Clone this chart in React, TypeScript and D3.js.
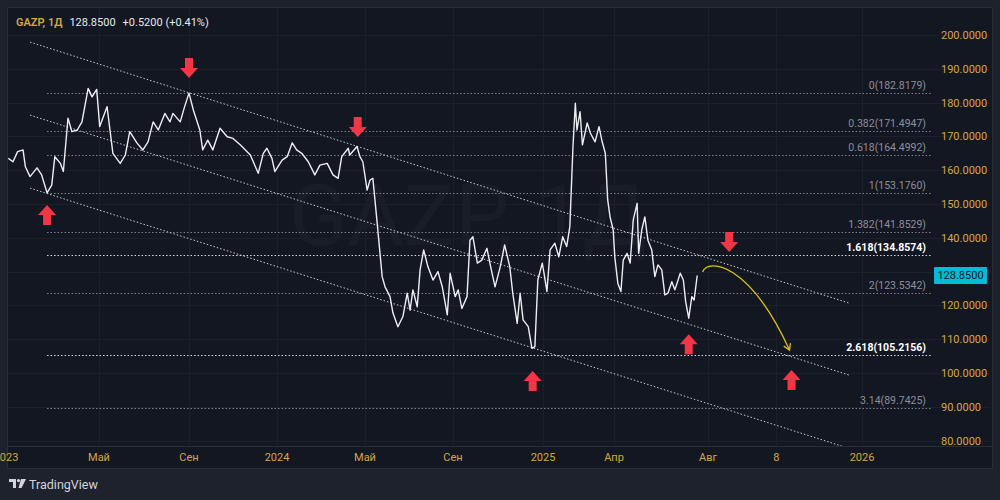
import React from "react";
import * as d3 from "d3";

// GAZP daily closes
const dates = [
  "2023-01-04", "2023-01-10", "2023-01-16", "2023-01-23", "2023-01-26", "2023-02-01", "2023-02-10", "2023-02-16",
  "2023-02-23", "2023-03-01", "2023-03-05", "2023-03-12", "2023-03-16", "2023-03-22", "2023-03-27", "2023-04-03",
  "2023-04-09", "2023-04-17", "2023-04-22", "2023-04-28", "2023-05-02", "2023-05-12", "2023-05-20", "2023-05-30",
  "2023-06-06", "2023-06-12", "2023-06-22", "2023-06-30", "2023-07-07", "2023-07-14", "2023-07-21", "2023-07-30",
  "2023-08-06", "2023-08-10", "2023-08-20", "2023-08-26", "2023-09-01", "2023-09-07", "2023-09-16", "2023-09-20",
  "2023-09-27", "2023-10-04", "2023-10-14", "2023-10-24", "2023-11-01", "2023-11-11", "2023-11-25", "2023-12-06",
  "2023-12-13", "2023-12-18", "2023-12-25", "2023-12-29",
  "2024-01-08", "2024-01-15", "2024-01-22", "2024-01-28", "2024-02-04", "2024-02-13", "2024-02-22", "2024-02-29",
  "2024-03-10", "2024-03-18", "2024-03-25", "2024-03-30", "2024-04-08", "2024-04-10", "2024-04-20", "2024-04-24",
  "2024-04-28", "2024-05-04", "2024-05-08", "2024-05-12", "2024-05-18", "2024-05-25", "2024-05-29", "2024-06-05",
  "2024-06-09", "2024-06-16", "2024-06-23", "2024-06-29", "2024-07-03", "2024-07-07", "2024-07-13", "2024-07-17",
  "2024-07-22", "2024-07-28", "2024-08-04", "2024-08-11", "2024-08-17", "2024-08-24", "2024-08-28", "2024-09-04",
  "2024-09-08", "2024-09-13", "2024-09-20", "2024-09-24", "2024-09-28", "2024-10-04", "2024-10-10", "2024-10-17",
  "2024-10-21", "2024-10-28", "2024-11-04", "2024-11-10", "2024-11-17", "2024-11-21", "2024-11-27", "2024-12-01",
  "2024-12-05", "2024-12-12", "2024-12-17", "2024-12-21", "2024-12-25", "2024-12-31",
  "2025-01-03", "2025-01-06", "2025-01-10", "2025-01-16", "2025-01-21", "2025-01-26", "2025-01-31", "2025-02-04",
  "2025-02-08", "2025-02-11", "2025-02-13", "2025-02-17", "2025-02-20", "2025-02-26", "2025-03-02", "2025-03-08",
  "2025-03-13", "2025-03-17", "2025-03-21", "2025-03-24", "2025-03-27", "2025-03-31", "2025-04-02", "2025-04-06",
  "2025-04-10", "2025-04-13", "2025-04-18", "2025-04-22", "2025-04-26", "2025-05-01", "2025-05-03", "2025-05-07",
  "2025-05-11", "2025-05-15", "2025-05-20", "2025-05-24", "2025-05-28", "2025-06-02", "2025-06-06", "2025-06-10",
  "2025-06-15", "2025-06-19", "2025-06-26", "2025-06-30", "2025-07-03", "2025-07-07", "2025-07-11", "2025-07-14",
  "2025-07-18",
];
const closes = [
  163.5, 162.5, 165.5, 166.0, 161.0, 158.1, 160.7, 158.6,
  153.3, 155.6, 164.0, 162.1, 159.6, 175.4, 171.4, 171.9,
  174.3, 184.2, 181.7, 183.9, 172.9, 178.8, 165.0, 162.0,
  164.5, 171.4, 168.0, 166.0, 168.4, 174.3, 171.9, 176.8,
  174.3, 176.8, 174.3, 178.8, 182.8, 177.8, 171.9, 166.0,
  168.9, 166.0, 172.4, 169.9, 169.4, 167.5, 164.5, 159.1,
  165.0, 166.5, 163.5, 159.6,
  163.0, 164.0, 168.1, 166.0, 165.0, 162.5, 158.6, 161.5,
  162.0, 158.6, 157.6, 164.0, 166.5, 164.5, 167.0, 164.0,
  162.5, 154.1, 157.1, 157.6, 144.4, 128.5, 125.5, 122.6,
  117.8, 113.7, 116.7, 123.6, 118.6, 124.6, 119.6, 130.5,
  136.4, 131.4, 127.5, 130.0, 125.5, 117.2, 129.5, 122.6,
  124.6, 119.1, 122.6, 139.3, 140.3, 132.5, 133.4, 136.9,
  132.5, 125.5, 131.4, 137.9, 131.4, 123.6, 114.7, 123.6,
  115.7, 113.7, 107.3, 107.8, 127.5, 132.5,
  128.5, 124.1, 136.4, 138.4, 134.4, 140.3, 137.4, 143.3,
  167.0, 179.8, 171.9, 177.3, 167.5, 174.0, 171.0, 168.4,
  172.9, 168.4, 165.0, 151.2, 146.2, 142.3, 134.4, 126.5,
  124.1, 133.4, 135.4, 132.5, 145.3, 150.2, 135.4, 142.3,
  146.2, 139.3, 136.4, 128.5, 132.0, 130.5, 123.1, 123.6,
  127.0, 124.6, 129.5, 127.5, 121.1, 116.2, 122.6, 121.6,
  128.85,
];

// fibonacci extension levels
const fibRatios = ["0", "0.382", "0.618", "1", "1.382", "1.618", "2", "2.618", "3.14"];
const fibPrices = [182.8179, 171.4947, 164.4992, 153.176, 141.8529, 134.8574, 123.5342, 105.2156, 89.7425];
const fibBold = ["1.618", "2.618"];
const fibStart = "2023-02-23";

// parallel channel lines: [start date, start price, end date, end price]
const channelStart = "2023-02-01";
const channelEnd = "2025-12-19";
const channelStartPrices = [197.9, 176.3, 154.7];
const channelEndPrices = [120.7, 99.4, 77.7];

// red arrows marking touches (tip date / tip price)
const downArrowDates = ["2023-09-01", "2024-04-21", "2025-08-22"];
const downArrowPrices = [187.3, 169.8, 135.8];
const upArrowDates = ["2023-02-23", "2024-12-18", "2025-07-07", "2025-10-23"];
const upArrowPrices = [149.7, 100.6, 111.5, 100.9];

// forecast curve (bezier anchors)
const forecastDates = ["2025-07-25", "2025-08-01", "2025-09-11", "2025-10-21"];
const forecastPrices = [129.9, 134.0, 132.8, 106.8];

// axes
const priceTicks = [80, 90, 100, 110, 120, 130, 140, 150, 160, 170, 180, 190, 200];
const timeTickDates = ["2023-01-01", "2023-05-01", "2023-09-01", "2024-01-01", "2024-05-01", "2024-09-01", "2025-01-01", "2025-04-01", "2025-08-01", "2025-10-08", "2026-01-01"];
const timeTickLabels = ["2023", "Май", "Сен", "2024", "Май", "Сен", "2025", "Апр", "Авг", "8", "2026"];

const lastPrice = 128.85;

const parse = d3.timeParse("%Y-%m-%d");
const FONT = "Roboto, 'Noto Sans', sans-serif";
const GOLD = "#d4a64a";

const App = () => {
  const W = 1000;
  const H = 500;
  const plot = { left: 8, right: 932, top: 8, bottom: 446 };

  // trading-day compression makes the time axis piecewise
  const x = d3
    .scaleTime()
    .domain(["2023-01-01", "2023-05-01", "2023-09-01", "2024-01-01", "2024-05-01", "2024-09-01", "2025-01-01", "2025-04-01", "2025-08-01", "2026-01-01"].map((s) => parse(s) as Date))
    .range([6, 99, 189, 277, 365, 453, 543, 614, 708, 862]);
  const y = d3.scaleLinear().domain([80, 200]).range([440.6, 35]);

  const series = dates.map((d, i) => ({ date: parse(d) as Date, value: closes[i] }));
  const line = d3
    .line<{ date: Date; value: number }>()
    .x((d) => x(d.date))
    .y((d) => y(d.value));

  const fx = forecastDates.map((d) => x(parse(d) as Date));
  const fy = forecastPrices.map((v) => y(v));
  const curve = d3.path();
  curve.moveTo(fx[0], fy[0]);
  curve.bezierCurveTo(fx[1], fy[1], fx[2], fy[2], fx[3], fy[3]);
  const ang = Math.atan2(fy[3] - fy[2], fx[3] - fx[2]);
  const head = (a: number) => [fx[3] - 7 * Math.cos(ang + a), fy[3] - 7 * Math.sin(ang + a)];
  const h1 = head(0.55);
  const h2 = head(-0.55);

  const downArrow = "M0,0 L-9,-10 L-4,-10 L-4,-20 L4,-20 L4,-10 L9,-10 Z";
  const upArrow = "M0,0 L-9,10 L-4,10 L-4,20 L4,20 L4,10 L9,10 Z";

  const fibX0 = x(parse(fibStart) as Date);

  return (
    <div style={{ position: "absolute", left: 0, top: 0, width: W, height: H }}>
      <svg width={W} height={H} style={{ display: "block", fontFamily: FONT }}>
        <defs>
          <clipPath id="plotClip">
            <rect x={plot.left} y={plot.top} width={plot.right - plot.left} height={plot.bottom - plot.top} />
          </clipPath>
        </defs>
        <rect width={W} height={H} fill="#1e222d" />
        <rect x={7.5} y={7.5} width={985} height={461} fill="#131722" stroke="#2a2e39" />

        {/* grid */}
        <g stroke="#1c202b" strokeWidth={1}>
          {priceTicks.map((t) => (
            <line key={"h" + t} x1={plot.left} x2={990} y1={Math.round(y(t)) + 0.5} y2={Math.round(y(t)) + 0.5} />
          ))}
          {timeTickDates.map((t) => (
            <line key={"v" + t} x1={Math.round(x(parse(t) as Date)) + 0.5} x2={Math.round(x(parse(t) as Date)) + 0.5} y1={plot.top} y2={plot.bottom} />
          ))}
        </g>
        <line x1={8} x2={992} y1={446.5} y2={446.5} stroke="#2a2e39" />

        {/* watermark */}
        <text x={468} y={245} textAnchor="middle" fontSize={86} fill="#191d28" fontFamily={FONT}>
          GAZP, 1Д
        </text>

        <g clipPath="url(#plotClip)">
          {/* fib levels */}
          {fibPrices.map((p, i) => {
            const bold = fibBold.includes(fibRatios[i]);
            const yy = Math.round(y(p)) + 0.5;
            return (
              <g key={"f" + i}>
                <line x1={fibX0} x2={plot.right} y1={yy} y2={yy} stroke={bold ? "#d8d9de" : "#7d818c"} strokeWidth={1} strokeDasharray="1.5 2" />
                <text x={926} y={yy - 5} textAnchor="end" fontSize={10.5} fill={bold ? "#ffffff" : "#8c909a"} fontWeight={bold ? 700 : 400}>
                  {fibRatios[i]}({p.toFixed(4)})
                </text>
              </g>
            );
          })}

          {/* channel */}
          {channelStartPrices.map((p, i) => (
            <line
              key={"c" + i}
              x1={x(parse(channelStart) as Date)}
              y1={y(p)}
              x2={x(parse(channelEnd) as Date)}
              y2={y(channelEndPrices[i])}
              stroke="#c9cbd1"
              strokeWidth={1}
              strokeDasharray="1.5 2"
            />
          ))}

          {/* price */}
          <path d={line(series) || ""} fill="none" stroke="#eceef2" strokeWidth={1.4} strokeLinejoin="round" />

          {/* forecast */}
          <path d={curve.toString()} fill="none" stroke="#d9c21f" strokeWidth={1.3} />
          <path d={`M${h1[0]},${h1[1]} L${fx[3]},${fy[3]} L${h2[0]},${h2[1]}`} fill="none" stroke="#d9c21f" strokeWidth={1.3} />

          {/* arrows */}
          {downArrowDates.map((d, i) => (
            <path key={"da" + i} d={downArrow} fill="#f23645" transform={`translate(${x(parse(d) as Date)},${y(downArrowPrices[i])})`} />
          ))}
          {upArrowDates.map((d, i) => (
            <path key={"ua" + i} d={upArrow} fill="#f23645" transform={`translate(${x(parse(d) as Date)},${y(upArrowPrices[i])})`} />
          ))}
        </g>

        {/* price axis */}
        {priceTicks.map((t) => (
          <text key={"pt" + t} x={941} y={y(t) + 4} fontSize={11} fill={GOLD}>
            {t.toFixed(4)}
          </text>
        ))}
        <rect x={934} y={y(lastPrice) - 8.5} width={53} height={17} fill="#00bcd4" rx={1} />
        <text x={960.5} y={y(lastPrice) + 4} textAnchor="middle" fontSize={11} fill="#131722">
          {lastPrice.toFixed(4)}
        </text>

        {/* time axis */}
        {timeTickDates.map((t, i) => (
          <text key={"tt" + t} x={x(parse(t) as Date)} y={461} textAnchor="middle" fontSize={11} fill={GOLD}>
            {timeTickLabels[i]}
          </text>
        ))}

        {/* header */}
        <text x={16} y={26} fontSize={11}>
          <tspan fill={GOLD} fontWeight={600}>GAZP, 1Д</tspan>
          <tspan dx={7} fill="#e6e8ee">128.8500</tspan>
          <tspan dx={7} fill="#e6e8ee">+0.5200 (+0.41%)</tspan>
        </text>

        {/* footer logo */}
        <g transform="translate(9,479)" fill="#d1d4dc">
          <path d="M0,0 H7 V9 H4 V3 H0 Z" />
          <circle cx={9.5} cy={1.6} r={1.6} />
          <path d="M12,0 H17 L12.5,9 H9.5 Z" />
        </g>
        <text x={29} y={489} fontSize={12.5} fill="#d1d4dc">
          TradingView
        </text>
      </svg>
    </div>
  );
};

export default App;
